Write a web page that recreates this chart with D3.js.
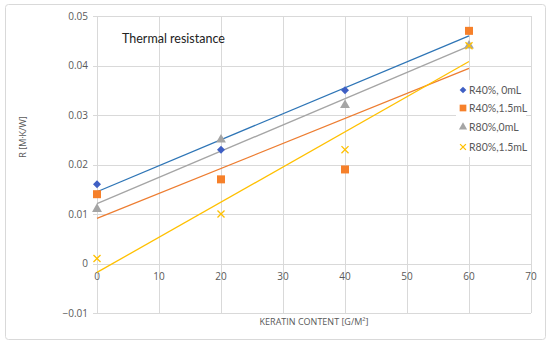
<!DOCTYPE html>
<html>
<head>
<meta charset="utf-8">
<script src="https://cdn.jsdelivr.net/npm/d3@7"></script>
<style>
  body { margin: 0; background: #fff; }
  svg { display: block; font-family: "Open Sans", "Noto Sans", sans-serif; }
</style>
</head>
<body>
<svg id="chart"></svg>
<script>
// data
var keratin = [0, 20, 40, 60];
var r40_0mL = [0.016, 0.023, 0.035, 0.047];
var r40_15mL = [0.014, 0.017, 0.019, 0.047];
var r80_0mL = [0.011, 0.025, 0.032, 0.044];
var r80_15mL = [0.001, 0.010, 0.023, 0.044];
var seriesNames = ['R40%, 0mL', 'R40%,1.5mL', 'R80%,0mL', 'R80%,1.5mL'];
var xTicks = [0, 10, 20, 30, 40, 50, 60, 70];
var yTicks = [-0.01, 0, 0.01, 0.02, 0.03, 0.04, 0.05];

var width = 550, height = 346;
var svg = d3.select('#chart').attr('width', width).attr('height', height);

// chart frame
svg.append('rect')
  .attr('x', 5.5).attr('y', 4.5)
  .attr('width', 540).attr('height', 335)
  .attr('rx', 3)
  .attr('fill', '#fff')
  .attr('stroke', '#d9d9d9');

var x = d3.scaleLinear().domain([0, 70]).range([97, 531]);
var y = d3.scaleLinear().domain([-0.01, 0.05]).range([313, 16]);

var series = [
  { name: seriesNames[0], values: r40_0mL, color: '#2e75b6', mark: '#3f5fc4', symbol: d3.symbolSquare, size: 32, rot: 45 },
  { name: seriesNames[1], values: r40_15mL, color: '#ed7d31', mark: '#f6802a', symbol: d3.symbolSquare, size: 64, rot: 0 },
  { name: seriesNames[2], values: r80_0mL, color: '#a5a5a5', mark: '#a5a5a5', symbol: d3.symbolTriangle, size: 42, rot: 0 },
  { name: seriesNames[3], values: r80_15mL, color: '#ffc000', mark: '#ffc000', symbol: d3.symbolX, size: 34, rot: 0 }
];

// grid
var grid = svg.append('g');
grid.selectAll('.gx').data(xTicks).enter().append('line')
  .attr('x1', function(d) { return Math.round(x(d)) + 0.5; })
  .attr('x2', function(d) { return Math.round(x(d)) + 0.5; })
  .attr('y1', y(0.05)).attr('y2', y(-0.01))
  .attr('stroke', '#d9d9d9');
grid.selectAll('.gy').data(yTicks).enter().append('line')
  .attr('x1', x(0) - 4).attr('x2', x(70))
  .attr('y1', function(d) { return Math.round(y(d)) + 0.5; })
  .attr('y2', function(d) { return Math.round(y(d)) + 0.5; })
  .attr('stroke', '#d9d9d9');

// tick labels
svg.append('g').selectAll('text').data(yTicks).enter().append('text')
  .attr('x', 88)
  .attr('y', function(d) { return y(d); })
  .attr('dy', '0.35em')
  .attr('text-anchor', 'end')
  .attr('font-size', 10)
  .attr('fill', '#595959')
  .text(function(d) { return d === 0 ? '0' : d3.format('.2f')(d); });

svg.append('g').selectAll('text').data(xTicks).enter().append('text')
  .attr('x', function(d) { return x(d); })
  .attr('y', 280)
  .attr('text-anchor', 'middle')
  .attr('font-size', 10)
  .attr('fill', '#595959')
  .text(function(d) { return d; });

// axis titles
svg.append('text')
  .attr('x', x(35)).attr('y', 325)
  .attr('text-anchor', 'middle')
  .attr('font-size', 9)
  .attr('fill', '#595959')
  .text('KERATIN CONTENT [G/M\u00b2]');

svg.append('text')
  .attr('transform', 'translate(26,137) rotate(-90)')
  .attr('text-anchor', 'middle')
  .attr('font-size', 9)
  .attr('fill', '#595959')
  .text('R [M\u00b7K/W]');

// chart title
svg.append('text')
  .attr('x', 122).attr('y', 43)
  .attr('font-family', 'Lato, sans-serif')
  .attr('font-size', 12.5)
  .attr('fill', '#222')
  .text('Thermal resistance');

// least squares trend lines
function fit(xs, ys) {
  var mx = d3.mean(xs), my = d3.mean(ys);
  var num = d3.sum(xs, function(v, i) { return (v - mx) * (ys[i] - my); });
  var den = d3.sum(xs, function(v) { return (v - mx) * (v - mx); });
  var b = num / den;
  return { a: my - b * mx, b: b };
}

var line = d3.line()
  .x(function(d) { return x(d[0]); })
  .y(function(d) { return y(d[1]); });

series.forEach(function(s) {
  var f = fit(keratin, s.values);
  var ends = [0, 60].map(function(k) { return [k, f.a + f.b * k]; });
  svg.append('path')
    .attr('d', line(ends))
    .attr('fill', 'none')
    .attr('stroke', s.color)
    .attr('stroke-width', 1.3);
});

// markers
function drawMark(g, s, cx, cy) {
  var isX = s.symbol === d3.symbolX;
  g.append('path')
    .attr('transform', 'translate(' + cx + ',' + cy + ') rotate(' + s.rot + ')')
    .attr('d', d3.symbol().type(s.symbol).size(s.size)())
    .attr('fill', isX ? 'none' : s.mark)
    .attr('stroke', isX ? s.mark : 'none')
    .attr('stroke-width', isX ? 1.3 : 0);
}

series.forEach(function(s) {
  var g = svg.append('g');
  s.values.forEach(function(v, i) {
    drawMark(g, s, x(keratin[i]), y(v));
  });
});

// legend (white box hides grid behind it)
var legend = svg.append('g');
legend.append('rect')
  .attr('x', 456).attr('y', 80)
  .attr('width', 70).attr('height', 77)
  .attr('fill', '#fff');
var legendY = [90, 108, 127, 147];
series.forEach(function(s, i) {
  drawMark(legend, { symbol: s.symbol, mark: s.mark, rot: s.rot, size: s.size * 0.7 }, 463, legendY[i]);
  legend.append('text')
    .attr('x', 469).attr('y', legendY[i])
    .attr('dy', '0.35em')
    .attr('font-family', 'Lato, sans-serif')
    .attr('font-size', 10.5)
    .attr('fill', '#595959')
    .text(s.name);
});
</script>
</body>
</html>
